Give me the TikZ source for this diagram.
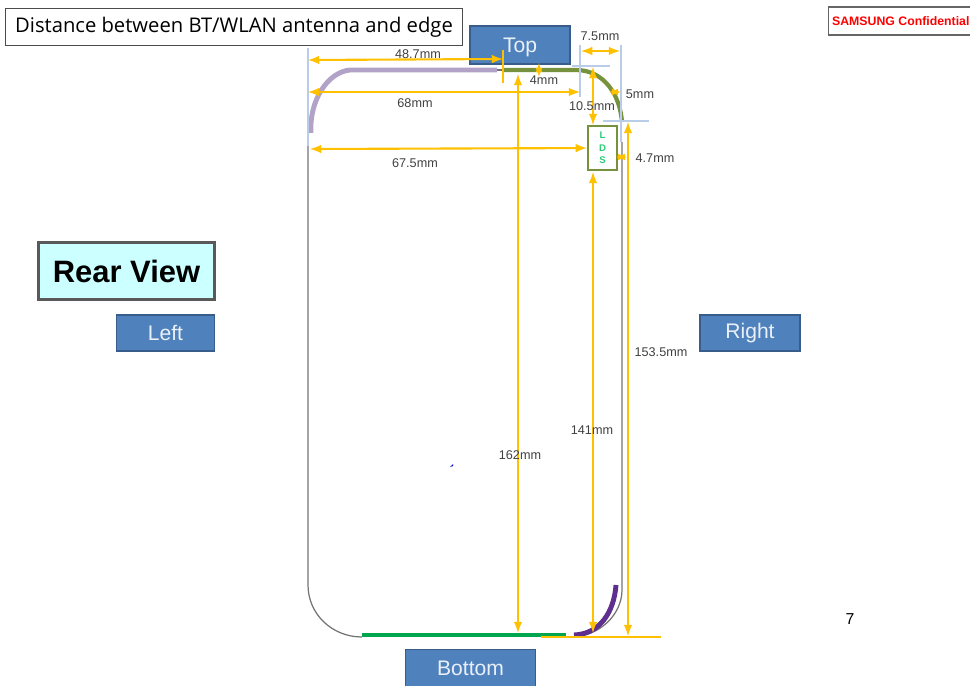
\documentclass[tikz,border=0pt]{standalone}
\usepackage{fontspec}
\setmainfont{Liberation Sans}
\newfontfamily\titlefont{Open Sans}
\usetikzlibrary{arrows}
\definecolor{dimyellow}{HTML}{FFC000}
\definecolor{guideblue}{HTML}{B9CDE8}
\definecolor{boxblue}{HTML}{4F81BD}
\definecolor{boxedge}{HTML}{385D8A}
\definecolor{olive}{HTML}{76923C}
\definecolor{lilac}{HTML}{B3A2C7}
\definecolor{darkpurple}{HTML}{5F2F8F}
\definecolor{bottomgreen}{HTML}{00A64F}
\definecolor{ldsgreen}{HTML}{2FCB78}
\definecolor{rearfill}{HTML}{CCFFFF}
\tikzstyle{sidebox}=[rectangle,fill=boxblue,draw=boxedge,line width=0.8pt,text=white!88!boxblue,font=\fontsize{12}{14}\selectfont,inner sep=0pt]
\tikzstyle{dimlabel}=[font=\fontsize{7.2}{9}\selectfont,text=black!75,inner sep=0pt]
\tikzstyle{dimedge}=[draw=dimyellow,line width=1.2pt,latex-latex]
\tikzstyle{tinyedge}=[draw=dimyellow,line width=0.8pt,latex-latex]
\tikzstyle{dimline}=[draw=dimyellow,line width=1.2pt]
\tikzstyle{guide}=[draw=guideblue,line width=0.9pt]
\begin{document}
\begin{tikzpicture}[x=0.02cm,y=-0.02cm]
    \useasboundingbox (0,0) rectangle (970,686);

    % boxes
    \node[sidebox,minimum width=57pt,minimum height=21.5pt,text depth=0pt,text height=9pt] (top) at (520,45) {Top};
    \node[sidebox,minimum width=56pt,minimum height=20.5pt] (left) at (165.5,333) {Left};
    \node[sidebox,minimum width=57pt,minimum height=20.5pt] (right) at (750,333) {Right};
    \node[sidebox,minimum width=74pt,minimum height=21pt] (bottom) at (470.5,668) {Bottom};
    \node[rectangle,fill=rearfill,draw=black!65,line width=1.7pt,minimum width=100pt,minimum height=32pt,inner sep=0pt,font=\fontsize{17.6}{20}\selectfont\bfseries] (rear) at (126.5,271) {Rear View};
    \node[rectangle,draw=black!70,line width=0.6pt,minimum width=260pt,minimum height=21pt,inner sep=0pt,font=\titlefont\fontsize{11.5}{14}\selectfont] (title) at (234,27) {Distance between BT/WLAN antenna and edge};
    \node[rectangle,draw=black!60,line width=0.7pt,anchor=west,minimum height=16pt,inner xsep=2pt,inner ysep=0pt,text=red,font=\fontsize{7}{9}\selectfont\bfseries] (conf) at (828,21) {SAMSUNG Confidential};
    \node[font=\fontsize{9}{11}\selectfont,inner sep=0pt] (page) at (850,619) {7};

    % outline of the phone
    \draw[black!55,line width=0.7pt] (308,146) -- (308,585) .. controls (308,614) and (332,637) .. (362,637);
    \draw[black!55,line width=0.7pt] (622,142) -- (622,590) .. controls (622,614) and (600,637) .. (570,637);
    \draw[black!55,line width=0.7pt] (497,70) -- (503,70);

    % antennas
    \draw[lilac,line width=2.8pt] (311,133) .. controls (309,100) and (328,72) .. (350,70) -- (497,70);
    \draw[olive,line width=2.4pt] (503,70) -- (576,70) .. controls (604,70) and (620,95) .. (622,122);
    \draw[darkpurple,line width=2.8pt] (616,585) .. controls (614,612) and (600,634) .. (574,635);
    \draw[bottomgreen,line width=2.3pt] (362,635) -- (566,635);

    % guide lines
    \foreach \x/\y/\name in {308/48/ga, 308/146/gb, 580/45/gc, 580/97/gd, 621/45/ge, 621/142/gf,
        572/66/gg, 610/66/gh, 603/121/gi, 649/121/gj}
        \coordinate (\name) at (\x,\y);
    \foreach \source/\dest in {ga/gb, gc/gd, ge/gf, gg/gh, gi/gj}
        \path[guide] (\source) -- (\dest);

    % LDS
    \node[rectangle,draw=olive,line width=1.2pt,fill=white,minimum width=16.5pt,minimum height=25pt,inner sep=0pt,align=center,text=ldsgreen,font=\fontsize{5.5}{7}\selectfont\bfseries] (lds) at (602.5,148) {L\\D\\S};

    % dimensions
    \foreach \x/\y/\name in {308/60/a1, 503/59/a2, 503/50/t1, 503/83/t2,
        308/92/b1, 580/92/b2, 310/149/c1, 581/51/d1, 620/51/d2,
        539/63/e1, 539/77/e2, 593/67/f1, 593/125/f2,
        609/92/h1, 621/92/h2, 616/157/i1, 627/157/i2,
        518/74/j1, 518/633/j2, 593/172/k1, 593/633/k2,
        628/122/m1, 628/636/m2, 541/637/n1, 661/637/n2}
        \coordinate (\name) at (\x,\y);

    \foreach \source/\dest in {a1/a2, b1/b2, c1/lds, d1/d2, f1/f2, j1/j2, k1/k2, m1/m2}
        \path[dimedge] (\source) -- (\dest);
    \foreach \source/\dest in {e1/e2, h1/h2, i1/i2}
        \path[tinyedge] (\source) -- (\dest);
    \foreach \source/\dest in {t1/t2, n1/n2}
        \path[dimline] (\source) -- (\dest);

    \foreach \pos/\name/\len in {{(418,54)/la/48.7mm}, {(415,103)/lb/68mm}, {(415,163)/lc/67.5mm},
        {(600,36)/ld/7.5mm}, {(544,80)/le/4mm}, {(592,106)/lf/10.5mm}, {(640,94)/lh/5mm},
        {(655,158)/li/4.7mm}, {(520,455)/lj/162mm}, {(592,430)/lk/141mm}, {(661,352)/lm/153.5mm}}
        \node[dimlabel] (\name) at \pos {\len};

    % small mark
    \fill[blue!80!black] (450,467) -- (453,464) -- (453,466) -- cycle;
\end{tikzpicture}
\end{document}
